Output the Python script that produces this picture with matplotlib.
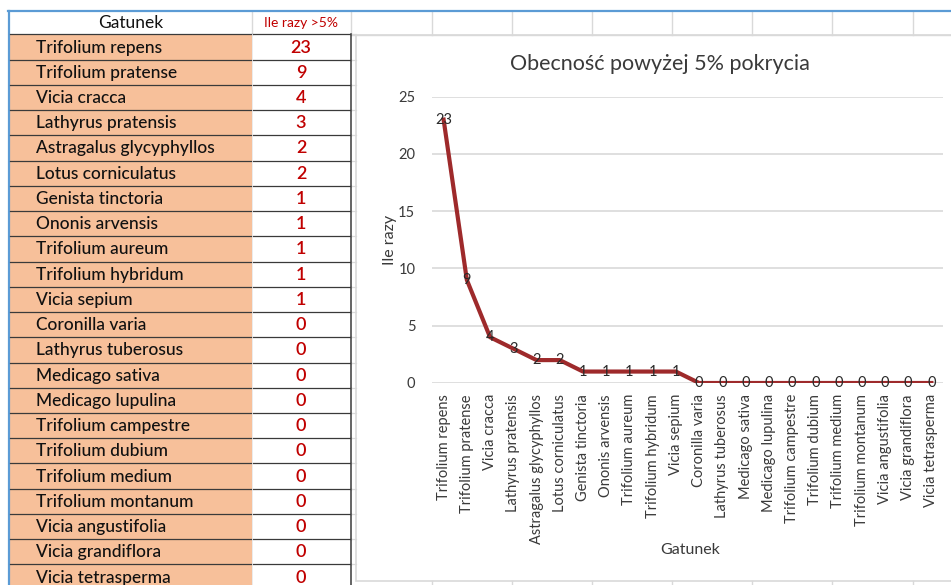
import matplotlib.pyplot as plt
from matplotlib.patches import Rectangle

plt.rcParams['font.family'] = ['Lato', 'DejaVu Sans']

# dane z arkusza
gatunki = [
    "Trifolium repens", "Trifolium pratense", "Vicia cracca", "Lathyrus pratensis",
    "Astragalus glycyphyllos", "Lotus corniculatus", "Genista tinctoria",
    "Ononis arvensis", "Trifolium aureum", "Trifolium hybridum", "Vicia sepium",
    "Coronilla varia", "Lathyrus tuberosus", "Medicago sativa", "Medicago lupulina",
    "Trifolium campestre", "Trifolium dubium", "Trifolium medium",
    "Trifolium montanum", "Vicia angustifolia", "Vicia grandiflora", "Vicia tetrasperma",
]
ile_razy = [23, 9, 4, 3, 2, 2, 1, 1, 1, 1, 1, 0, 0, 0, 0, 0, 0, 0, 0, 0, 0, 0]
y_ticks = [0, 5, 10, 15, 20, 25]

W, H = 951, 585
PEACH = "#F7C09A"
RED = "#C00000"
LINE = "#9E2A2B"
GRID = "#D9D9D9"
TXT = "#3a3a3a"

fig = plt.figure(figsize=(W / 100, H / 100), dpi=100)
bg = fig.add_axes([0, 0, 1, 1])
bg.set_xlim(0, W)
bg.set_ylim(H, 0)
bg.axis("off")

# siatka arkusza
col_x = [432, 512, 592, 672, 752, 832, 913]
for x in col_x:
    bg.plot([x, x], [11, 35], color=GRID, lw=1)
    bg.plot([x, x], [581, H], color=GRID, lw=1)
bg.plot([252, 252], [11, 35], color=GRID, lw=1)
bg.plot([351, 351], [11, 35], color=GRID, lw=1)
bg.plot([351, W], [34.5, 34.5], color=GRID, lw=1)
bg.plot([8, W], [11, 11], color="#5B9BD5", lw=1.6)
bg.plot([8.5, 8.5], [11, H], color="#5B9BD5", lw=1.6)

# tabela
row_h = 25.24
top0 = 34.4
bg.text(131, 23, "Gatunek", ha="center", va="center", fontsize=12.5, color="#111111")
bg.text(301, 23, "Ile razy >5%", ha="center", va="center", fontsize=10, color=RED)
for i, (g, v) in enumerate(zip(gatunki, ile_razy)):
    y0 = top0 + i * row_h
    bg.add_patch(Rectangle((10, y0), 242, row_h, fc=PEACH, ec="none"))
    bg.text(36, y0 + row_h / 2 + 0.5, g, ha="left", va="center", fontsize=12.5,
            color="#111111", fontweight="medium")
    bg.text(301, y0 + row_h / 2 + 0.5, str(v), ha="center", va="center", fontsize=13,
            color=RED, fontweight="semibold")
for i in range(len(gatunki) + 1):
    y = top0 + i * row_h
    bg.plot([10, 351], [y, y], color="#3a3a3a", lw=0.9)
    bg.plot([351, 356], [y, y], color=GRID, lw=0.9)
bg.plot([351, 351], [top0, H], color="#3a3a3a", lw=1.1)
bg.plot([252, 252], [top0, H], color="#e8e8e8", lw=0.6)

# obszar wykresu
bg.add_patch(Rectangle((356, 35), 620, 546, fc="white", ec=GRID, lw=1.2))
bg.text(660, 64, "Obecność powyżej 5% pokrycia", ha="center", va="center",
        fontsize=15.5, color=TXT)
bg.text(390, 240, "Ile razy", ha="center", va="center", rotation=90,
        fontsize=11.5, color=TXT)
bg.text(690, 550, "Gatunek", ha="center", va="center", fontsize=11.5, color=TXT)

ax = fig.add_axes([432 / W, (H - 383) / H, 511 / W, (383 - 96.7) / H])
ax.patch.set_alpha(0)
x = list(range(len(gatunki)))
ax.plot(x, ile_razy, color=LINE, lw=3, solid_joinstyle="round", zorder=3)
for xi, v in zip(x, ile_razy):
    ax.annotate(str(v), (xi, v), ha="center", va="center", fontsize=10.5,
                color="#2a2a2a", zorder=4)

ax.set_xlim(-0.5, len(gatunki) - 0.5)
ax.set_ylim(0, 25)
ax.set_yticks(y_ticks)
ax.set_xticks(x)
ax.set_xticklabels(gatunki, rotation=90, va="top", ha="center", fontsize=10.5, color=TXT)
ax.tick_params(axis="y", length=0, pad=12, labelsize=10.5, labelcolor=TXT)
ax.tick_params(axis="x", length=0, pad=8)
for s in ax.spines.values():
    s.set_visible(False)
ax.grid(axis="y", color=GRID, lw=1.2)
ax.set_axisbelow(True)

fig.savefig("out.png", dpi=100)
